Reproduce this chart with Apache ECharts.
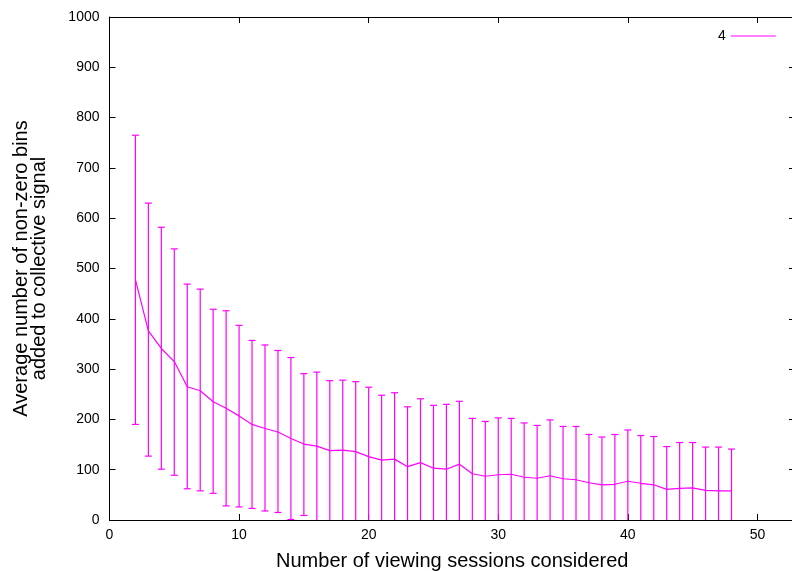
<!DOCTYPE html>
<html>
<head>
<meta charset="utf-8">
<script src="https://cdn.jsdelivr.net/npm/echarts@6/dist/echarts.min.js"></script>
<style>
  html, body { margin: 0; padding: 0; background: #fff; }
  #chart { width: 792px; height: 571px; }
</style>
</head>
<body>
<div id="chart"></div>
<script>
// sessions considered
const sessions = [2, 3, 4, 5, 6, 7, 8, 9, 10, 11, 12, 13, 14, 15, 16, 17, 18, 19, 20, 21, 22, 23, 24, 25,
  26, 27, 28, 29, 30, 31, 32, 33, 34, 35, 36, 37, 38, 39, 40, 41, 42, 43, 44, 45, 46, 47, 48];
// average non-zero bins
const means = [478, 376, 341, 315, 265, 257, 235, 222, 207, 190, 182, 175, 162, 151, 147, 138, 139, 136, 126, 119,
  121, 106, 114, 103, 101, 111, 92, 87, 90, 91, 85, 83, 88, 82, 80, 74, 70, 71, 77, 73, 70, 61, 63, 64, 59, 58, 58];
// error bar top
const highs = [765, 630, 582, 539, 469, 459, 419, 416, 387, 357, 348, 337, 323, 291, 294, 277, 278, 275, 264, 248,
  253, 225, 241, 228, 230, 236, 202, 196, 203, 202, 193, 188, 199, 186, 186, 170, 165, 170, 179, 168, 166, 146, 154,
  154, 145, 145, 141];
// error bar bottom (0 = runs below the axis)
const lows = [190, 127, 101, 89, 62, 58, 53, 28, 26, 23, 18, 15, 1, 9, 0, 0, 0, 0, 0, 0, 0, 0, 0, 0, 0, 0, 0, 0, 0,
  0, 0, 0, 0, 0, 0, 0, 0, 0, 0, 0, 0, 0, 0, 0, 0, 0, 0];

const seriesName = '4';
const xTitle = 'Number of viewing sessions considered';
const yTitle = 'Average number of non-zero bins\nadded to collective signal';

const magenta = '#ff00ff';
const font = 'Liberation Sans, Arial, sans-serif';

const chart = echarts.init(document.getElementById('chart'), null, { renderer: 'canvas' });

const lineData = sessions.map((s, i) => [s, means[i]]);
const barData = sessions.map((s, i) => [s, lows[i], highs[i]]);

const axisLineStyle = { show: true, onZero: false, lineStyle: { color: '#000', width: 1 } };
const tickStyle = { show: true, inside: true, length: 6, lineStyle: { color: '#000' } };

const option = {
  animation: false,
  grid: { left: 109.5, right: -3, top: 17, bottom: 51, outerBoundsMode: 'none', containLabel: false },
  legend: {
    data: [{ name: seriesName, icon: 'rect' }],
    left: 713, top: 24,
    align: 'right',
    itemWidth: 45, itemHeight: 1.2, itemGap: 8,
    textStyle: { fontFamily: font, fontSize: 14, color: '#000' }
  },
  xAxis: [{
    type: 'value', min: 0, max: 52.9, interval: 10,
    name: xTitle, nameLocation: 'middle', nameGap: 31,
    nameTextStyle: { fontFamily: font, fontSize: 20, color: '#000' },
    axisLine: axisLineStyle, axisTick: tickStyle, splitLine: { show: false },
    axisLabel: { showMaxLabel: false, fontFamily: font, fontSize: 14, color: '#000', margin: 8 }
  }, {
    type: 'value', position: 'top', min: 0, max: 52.9, interval: 10,
    axisLine: axisLineStyle, axisTick: tickStyle, splitLine: { show: false },
    axisLabel: { show: false }
  }],
  yAxis: [{
    type: 'value', min: 0, max: 1000, interval: 100,
    name: yTitle, nameLocation: 'middle', nameGap: 61,
    nameTextStyle: { fontFamily: font, fontSize: 20, color: '#000', lineHeight: 18 },
    axisLine: axisLineStyle, axisTick: tickStyle, splitLine: { show: false },
    axisLabel: { fontFamily: font, fontSize: 14, color: '#000', margin: 10, formatter: v => String(v) }
  }, {
    type: 'value', position: 'right', min: 0, max: 1000, interval: 100,
    axisLine: axisLineStyle, axisTick: tickStyle, splitLine: { show: false },
    axisLabel: { show: false }
  }],
  series: [{
    name: seriesName,
    type: 'line',
    data: lineData,
    symbol: 'none',
    lineStyle: { color: magenta, width: 1.2 },
    itemStyle: { color: magenta },
    z: 3
  }, {
    type: 'custom',
    data: barData,
    clip: true,
    renderItem: function (params, api) {
      const x = api.value(0);
      const lo = api.value(1);
      const hi = api.value(2);
      const top = api.coord([x, hi]);
      const bot = api.coord([x, lo]);
      const half = 3.5;
      const style = { stroke: magenta, lineWidth: 1.2 };
      const children = [
        { type: 'line', shape: { x1: top[0], y1: top[1], x2: bot[0], y2: bot[1] }, style: style },
        { type: 'line', shape: { x1: top[0] - half, y1: top[1], x2: top[0] + half, y2: top[1] }, style: style }
      ];
      if (lo > 0) {
        children.push({ type: 'line', shape: { x1: bot[0] - half, y1: bot[1], x2: bot[0] + half, y2: bot[1] }, style: style });
      }
      return { type: 'group', children: children };
    },
    z: 2
  }]
};

chart.setOption(option);
</script>
</body>
</html>
